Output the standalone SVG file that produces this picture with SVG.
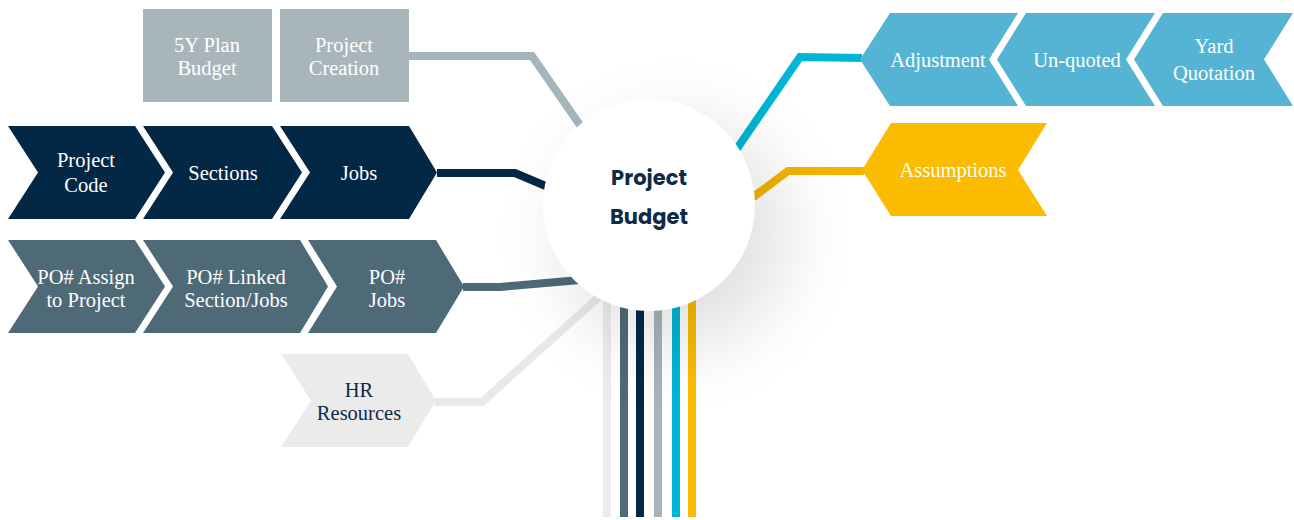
<svg xmlns="http://www.w3.org/2000/svg" width="1294" height="520" viewBox="0 0 1294 520">
<style>
.lbl{font-family:"Liberation Serif","Times New Roman",serif;font-size:20.5px;fill:#ffffff;text-anchor:middle}
.dk{fill:#0e2a47}
.ln{fill:none;stroke-width:8;stroke-linejoin:miter}
.gray{fill:#a8b5bb}
.navy{fill:#032846}
.slate{fill:#4e6a77}
.hr{fill:#ebebeb}
.blue{fill:#55b3d3}
.yel{fill:#fabb00}
.ctr{font-family:Poppins,"Inter","Noto Sans",sans-serif;font-weight:700;font-size:21px;fill:#0e2a47;text-anchor:middle}
</style>
<defs>
<filter id="sh" x="-80%" y="-80%" width="260%" height="260%">
<feGaussianBlur stdDeviation="38"/>
</filter>
</defs>
<rect width="1294" height="520" fill="#ffffff"/>

<g id="connectors">
<path class="ln" stroke="#a5b5bb" d="M409,56 L532,56 L582,128"/>
<path class="ln" stroke="#032846" d="M437,173 L515,173 L548,187"/>
<path class="ln" stroke="#4e6a77" d="M463,287 L500,287 L580,280"/>
<path class="ln" stroke="#e9e9e9" d="M435,402 L482,402 L600,296"/>
<path class="ln" stroke="#00b5d5" d="M736,150 L800,57 L862,58"/>
<path class="ln" stroke="#f3b400" d="M752,198 L788,171 L864,171"/>
<line class="ln" stroke="#ececec" x1="607" y1="290" x2="607" y2="517"/>
<line class="ln" stroke="#4e6a77" x1="624" y1="290" x2="624" y2="517"/>
<line class="ln" stroke="#032846" x1="640" y1="290" x2="640" y2="517"/>
<line class="ln" stroke="#a5b5bb" x1="658" y1="290" x2="658" y2="517"/>
<line class="ln" stroke="#00b5d5" x1="676" y1="290" x2="676" y2="517"/>
<line class="ln" stroke="#fabb00" x1="692" y1="290" x2="692" y2="517"/>
</g>

<circle cx="675" cy="235" r="112" fill="#000000" opacity="0.12" filter="url(#sh)"/>

<g id="center">
<circle cx="649" cy="205" r="106" fill="#ffffff"/>
<text class="ctr" x="649" y="185">Project</text>
<text class="ctr" x="649" y="224">Budget</text>
</g>

<g id="plan-budget">
<rect class="gray" x="143" y="9" width="129" height="93"/>
<text class="lbl" x="207" y="52">5Y Plan</text>
<text class="lbl" x="207" y="75">Budget</text>
</g>
<g id="project-creation">
<rect class="gray" x="280" y="9" width="129" height="93"/>
<text class="lbl" x="344" y="52">Project</text>
<text class="lbl" x="344" y="75">Creation</text>
</g>

<g id="project-code">
<polygon class="navy" points="8,126 135,126 165,172.5 135,219 8,219 38,172.5"/>
<text class="lbl" x="86" y="167">Project</text>
<text class="lbl" x="86" y="192">Code</text>
</g>
<g id="sections">
<polygon class="navy" points="143,126 272,126 302,172.5 272,219 143,219 173,172.5"/>
<text class="lbl" x="223" y="180">Sections</text>
</g>
<g id="jobs">
<polygon class="navy" points="280,126 409,126 437,172.5 409,219 280,219 310,172.5"/>
<text class="lbl" x="359" y="180">Jobs</text>
</g>

<g id="po-assign">
<polygon class="slate" points="8,240 135,240 165,286.5 135,333 8,333 38,286.5"/>
<text class="lbl" x="86" y="284">PO# Assign</text>
<text class="lbl" x="86" y="307">to Project</text>
</g>
<g id="po-linked">
<polygon class="slate" points="143,240 300,240 328,286.5 300,333 143,333 173,286.5"/>
<text class="lbl" x="236" y="284">PO# Linked</text>
<text class="lbl" x="236" y="307">Section/Jobs</text>
</g>
<g id="po-jobs">
<polygon class="slate" points="308,240 436,240 464,286.5 436,333 308,333 337,286.5"/>
<text class="lbl" x="387" y="284">PO#</text>
<text class="lbl" x="387" y="307">Jobs</text>
</g>

<g id="hr-resources">
<polygon class="hr" points="281,354 408,354 436,400.5 408,447 281,447 311,400.5"/>
<text class="lbl dk" x="359" y="397">HR</text>
<text class="lbl dk" x="359" y="420">Resources</text>
</g>

<g id="adjustment">
<polygon class="blue" points="860,59.5 890,13 1018,13 989,59.5 1018,106 890,106"/>
<text class="lbl" x="938" y="67">Adjustment</text>
</g>
<g id="un-quoted">
<polygon class="blue" points="997,59.5 1026,13 1155,13 1126,59.5 1155,106 1026,106"/>
<text class="lbl" x="1077" y="67">Un-quoted</text>
</g>
<g id="yard-quotation">
<polygon class="blue" points="1134,59.5 1163,13 1293,13 1264,59.5 1293,106 1163,106"/>
<text class="lbl" x="1214" y="53">Yard</text>
<text class="lbl" x="1214" y="80">Quotation</text>
</g>

<g id="assumptions">
<polygon class="yel" points="862,170 891,123 1047,123 1018,170 1047,216 891,216"/>
<text class="lbl" x="953" y="177">Assumptions</text>
</g>
</svg>
